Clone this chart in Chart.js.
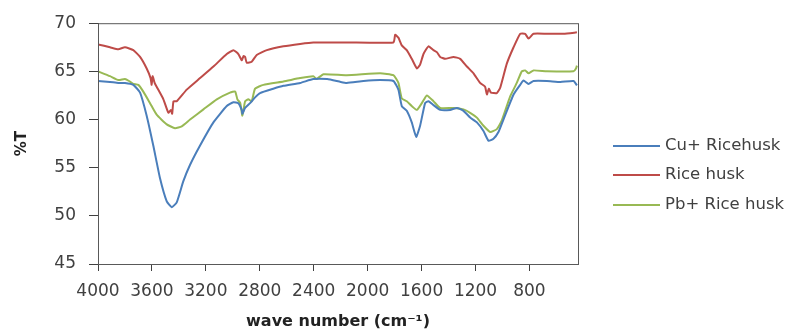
<!DOCTYPE html>
<html>
<head>
<meta charset="utf-8">
<script src="https://cdn.jsdelivr.net/npm/chart.js@4/dist/chart.umd.min.js"></script>
<style>
  html, body { margin: 0; padding: 0; background: #fff; }
  #wrap { width: 794px; height: 331px; position: relative; }
</style>
</head>
<body>
<div id="wrap"><canvas id="ftirChart"></canvas></div>
<script>
  // series names + colours
  const seriesNames = ["Cu+ Ricehusk", "Rice husk", "Pb+ Rice husk"];
  const seriesColors = ["#4a7ebb", "#be4b48", "#98b954"];

  // x tick labels (wave number)
  const xTicks = [4000, 3600, 3200, 2800, 2400, 2000, 1600, 1200, 800];

  // Cu + rice husk
  const cuWave = [4000, 3911, 3849, 3800, 3738, 3688, 3639, 3590, 3540, 3490, 3453, 3416, 3367, 3317, 3243, 3144, 3045, 2996, 2959, 2934, 2929, 2909, 2872, 2835, 2798, 2700, 2625, 2500, 2403, 2300, 2200, 2155, 2031, 1908, 1809, 1772, 1747, 1710, 1673, 1640, 1611, 1574, 1549, 1512, 1462, 1388, 1338, 1289, 1240, 1190, 1141, 1104, 1067, 1030, 993, 918, 869, 844, 807, 770, 671, 570, 473, 448];
  const cuT = [64.0, 63.9, 63.8, 63.8, 63.6, 62.8, 60.4, 57.3, 53.9, 51.5, 50.9, 51.4, 53.6, 55.3, 57.3, 59.7, 61.4, 61.8, 61.7, 61.0, 60.6, 61.2, 61.7, 62.3, 62.75, 63.2, 63.5, 63.8, 64.2, 64.2, 63.9, 63.8, 64.0, 64.1, 64.0, 63.1, 61.4, 60.9, 59.7, 58.2, 59.35, 61.7, 61.9, 61.5, 61.0, 61.0, 61.2, 60.9, 60.2, 59.7, 58.8, 57.8, 58.0, 58.7, 60.0, 62.6, 63.6, 64.05, 63.7, 64.0, 64.0, 63.9, 64.0, 63.55];

  // rice husk
  const rhWave = [4000, 3911, 3849, 3800, 3738, 3688, 3639, 3610, 3602, 3595, 3580, 3565, 3515, 3478, 3460, 3450, 3440, 3416, 3342, 3243, 3144, 3045, 2996, 2959, 2934, 2920, 2909, 2897, 2860, 2823, 2748, 2625, 2501, 2403, 2155, 1809, 1796, 1772, 1747, 1710, 1673, 1635, 1611, 1586, 1549, 1512, 1487, 1462, 1425, 1363, 1314, 1264, 1215, 1166, 1129, 1116, 1101, 1086, 1042, 1017, 968, 918, 869, 832, 807, 770, 671, 547, 448];
  const rhT = [67.8, 67.5, 67.3, 67.5, 67.2, 66.5, 65.3, 64.3, 63.6, 64.5, 63.8, 63.4, 62.1, 60.7, 61.0, 60.6, 61.9, 61.9, 63.1, 64.3, 65.5, 66.8, 67.2, 66.8, 66.15, 66.6, 66.5, 65.9, 66.0, 66.7, 67.2, 67.6, 67.85, 68.0, 68.0, 68.0, 68.8, 68.5, 67.7, 67.2, 66.3, 65.3, 65.7, 66.8, 67.6, 67.2, 67.0, 66.5, 66.3, 66.5, 66.3, 65.5, 64.8, 63.8, 63.4, 62.6, 63.2, 62.8, 62.75, 63.3, 65.8, 67.5, 68.9, 68.9, 68.4, 68.9, 68.9, 68.9, 69.05];

  // Pb + rice husk
  const pbWave = [4000, 3911, 3849, 3800, 3770, 3738, 3701, 3664, 3614, 3565, 3490, 3429, 3379, 3317, 3218, 3119, 3021, 2983, 2966, 2945, 2929, 2909, 2885, 2860, 2835, 2773, 2625, 2501, 2403, 2380, 2328, 2155, 1908, 1809, 1772, 1747, 1710, 1673, 1635, 1598, 1561, 1512, 1462, 1363, 1289, 1240, 1190, 1141, 1091, 1042, 1005, 943, 894, 857, 832, 807, 770, 671, 473, 455, 448];
  const pbT = [65.0, 64.5, 64.1, 64.2, 64.0, 63.7, 63.6, 62.9, 61.7, 60.5, 59.5, 59.1, 59.3, 60.0, 61.05, 62.1, 62.8, 62.9, 62.1, 61.7, 60.4, 61.9, 62.1, 61.9, 63.2, 63.6, 63.95, 64.3, 64.5, 64.2, 64.7, 64.6, 64.8, 64.6, 63.8, 62.2, 61.9, 61.4, 61.0, 61.7, 62.5, 61.9, 61.2, 61.2, 61.05, 60.7, 60.2, 59.35, 58.7, 59.0, 59.9, 62.4, 63.8, 65.0, 65.1, 64.8, 65.1, 65.0, 65.0, 65.3, 65.6];

  function toPoints(xs, ys) {
    return xs.map(function (x, i) { return { x: x, y: ys[i] }; });
  }

  const textColor = "#404040";
  const fontFamily = "'DejaVu Sans', sans-serif";

  // frame round the plot + legend on the right
  const framePlugin = {
    id: "framePlugin",
    afterDraw: function (chart) {
      const ctx = chart.ctx;
      const a = chart.chartArea;
      ctx.save();
      ctx.strokeStyle = "#595959";
      ctx.lineWidth = 1;
      ctx.strokeRect(a.left + 0.5, a.top + 0.5, a.right - a.left, a.bottom - a.top);

      // legend
      const ys = [146, 175, 205];
      ctx.font = "16.5px " + fontFamily;
      ctx.textBaseline = "middle";
      ctx.fillStyle = textColor;
      seriesNames.forEach(function (name, i) {
        ctx.strokeStyle = seriesColors[i];
        ctx.lineWidth = 2;
        ctx.beginPath();
        ctx.moveTo(613, ys[i]);
        ctx.lineTo(660, ys[i]);
        ctx.stroke();
        ctx.fillText(name, 665, ys[i]);
      });
      ctx.restore();
    }
  };

  const ctx = document.getElementById("ftirChart").getContext("2d");
  const ftirChart = new Chart(ctx, {
    type: "line",
    data: {
      datasets: [
        {
          label: seriesNames[0],
          data: toPoints(cuWave, cuT),
          borderColor: seriesColors[0],
        },
        {
          label: seriesNames[1],
          data: toPoints(rhWave, rhT),
          borderColor: seriesColors[1],
        },
        {
          label: seriesNames[2],
          data: toPoints(pbWave, pbT),
          borderColor: seriesColors[2],
        },
      ],
    },
    options: {
      responsive: true,
      maintainAspectRatio: false,
      animation: false,
      layout: {
        padding: { top: 19, right: 216, left: 0, bottom: 0 },
      },
      elements: {
        point: { radius: 0 },
        line: { borderWidth: 2, tension: 0.15, fill: false },
      },
      plugins: {
        legend: { display: false },
        tooltip: { enabled: false },
      },
      scales: {
        x: {
          type: "linear",
          reverse: true,
          min: 440,
          max: 4000,
          afterBuildTicks: function (scale) {
            scale.ticks = xTicks.map(function (v) { return { value: v }; });
          },
          afterFit: function (scale) {
            scale.height = 67;
          },
          grid: {
            drawOnChartArea: false,
            tickLength: 7,
            color: textColor,
          },
          border: { color: textColor, width: 1 },
          ticks: {
            autoSkip: false,
            maxRotation: 0,
            padding: 10,
            color: textColor,
            font: { family: fontFamily, size: 17 },
            callback: function (v) { return String(v); },
          },
          title: {
            display: true,
            text: "wave number (cm⁻¹)",
            color: "#222",
            font: { family: fontFamily, size: 16, weight: "bold" },
            padding: { top: 0, bottom: 0 },
          },
        },
        y: {
          min: 45,
          max: 70,
          afterFit: function (scale) {
            scale.width = 98;
          },
          grid: {
            drawOnChartArea: false,
            tickLength: 9,
            color: textColor,
          },
          border: { color: textColor, width: 1 },
          ticks: {
            stepSize: 5,
            padding: 13,
            color: textColor,
            font: { family: fontFamily, size: 17 },
          },
          title: {
            display: true,
            text: "%T",
            color: "#222",
            font: { family: fontFamily, size: 15, weight: "bold" },
            padding: { top: 13, bottom: 0 },
          },
        },
      },
    },
    plugins: [framePlugin],
  });
</script>
</body>
</html>
